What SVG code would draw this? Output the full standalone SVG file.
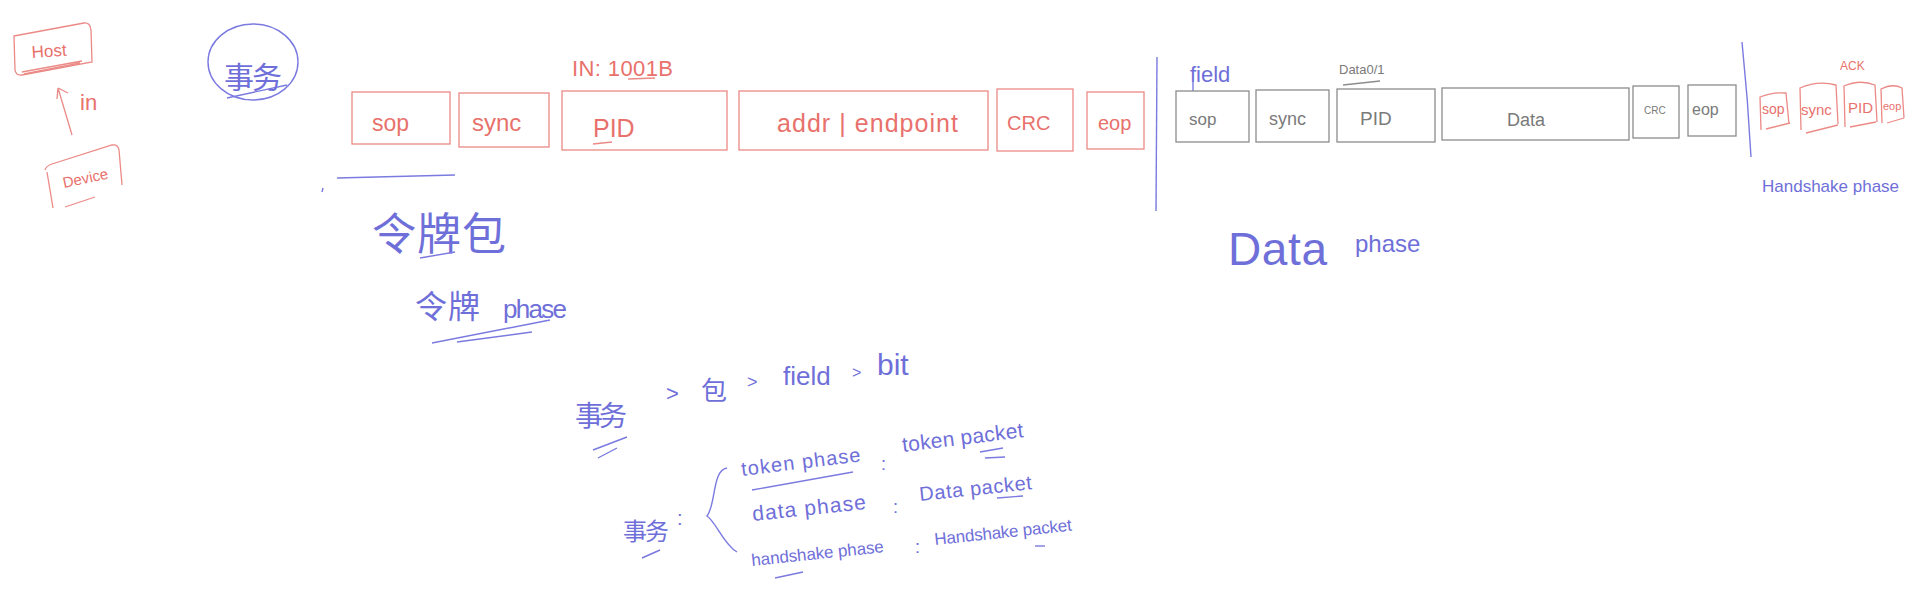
<svg xmlns="http://www.w3.org/2000/svg" width="1906" height="612" viewBox="0 0 1906 612">
<style>
.r{fill:none;stroke:#eb8a86;stroke-width:1.3}
.g{fill:none;stroke:#8c8c8c;stroke-width:1.3}
.b{fill:none;stroke:#7a7ae0;stroke-width:1.4}
.tr{fill:#e8716c;font-family:"Liberation Sans",sans-serif}
.tb{fill:#6f6fd9;font-family:"Liberation Sans","Noto Sans CJK SC",sans-serif}
.tg{fill:#7a7a7a;font-family:"Liberation Sans",sans-serif}
</style>
<rect width="1906" height="612" fill="#ffffff"/>

<g id="host">
<path class="r" d="M14,36 L84,23 Q90,22 91,30 L92,62 L22,75 Q16,76 15,70 Z"/>
<path class="r" d="M22,72 L82,61 M24,74 L80,63"/>
<text class="tr" x="32" y="58" font-size="17" textLength="35" transform="rotate(-4 32 58)">Host</text>
</g>

<g id="device">
<path class="r" d="M45,170 Q46,166 52,164 L112,145 Q118,144 119,150 L122,185 M53,208 L47,172"/>
<path class="r" d="M65,207 L95,197"/>
<text class="tr" x="64" y="188" font-size="15" textLength="46" transform="rotate(-12 64 188)">Device</text>
</g>

<g id="connectors">
<path class="r" d="M72,135 L58,88 M58,88 L57,99 M58,88 L68,93"/>
<text class="tr" x="80" y="110" font-size="22">in</text>
<path class="b" d="M727,468 C712,470 716,505 707,516 C716,522 724,545 737,552"/>
</g>

<g id="shiwu-circle">
<ellipse class="b" cx="253" cy="62" rx="45" ry="38"/>
<path class="b" d="M227,98 L287,85"/>
<text class="tb" x="224" y="88" font-size="30" textLength="58">事务</text>
</g>
<path class="b" d="M323,188 L322,192"/>

<g id="token-packet">
<rect class="r" x="352" y="92" width="98" height="52"/>
<text class="tr" x="372" y="131" font-size="23">sop</text>
<rect class="r" x="459" y="93" width="90" height="54"/>
<text class="tr" x="472" y="131" font-size="24">sync</text>
<rect class="r" x="562" y="91" width="165" height="59"/>
<text class="tr" x="593" y="137" font-size="25">PID</text>
<path class="r" d="M593,144 L612,142"/>
<text class="tr" x="572" y="76" font-size="22" textLength="101">IN: 1001B</text>
<path class="r" d="M628,79 L655,78"/>
<rect class="r" x="739" y="91" width="249" height="59"/>
<text class="tr" x="777" y="132" font-size="25" textLength="181">addr  |  endpoint</text>
<rect class="r" x="997" y="89" width="76" height="62"/>
<text class="tr" x="1007" y="130" font-size="20">CRC</text>
<rect class="r" x="1087" y="92" width="57" height="57"/>
<text class="tr" x="1098" y="130" font-size="20">eop</text>
</g>

<g id="token-notes">
<path class="b" d="M337,178 L455,175"/>
<text class="tb" x="372" y="250" font-size="44" textLength="134">令牌包</text>
<path class="b" d="M420,258 L455,252"/>
<text class="tb" x="415" y="318" font-size="32" textLength="65">令牌</text>
<text class="tb" x="503" y="318" font-size="26" textLength="64">phase</text>
<path class="b" d="M432,343 L550,320 M457,342 L532,332"/>
</g>

<path class="b" d="M1157,57 L1156,211"/>

<g id="data-packet">
<text class="tb" x="1190" y="82" font-size="22">field</text>
<path class="b" d="M1193,82 L1193,91"/>
<text class="tg" x="1339" y="74" font-size="13">Data0/1</text>
<path class="g" d="M1343,85 L1380,81"/>
<rect class="g" x="1176" y="91" width="73" height="51"/>
<text class="tg" x="1189" y="125" font-size="17">sop</text>
<rect class="g" x="1256" y="90" width="73" height="52"/>
<text class="tg" x="1269" y="125" font-size="18">sync</text>
<rect class="g" x="1337" y="89" width="98" height="53"/>
<text class="tg" x="1360" y="125" font-size="19">PID</text>
<rect class="g" x="1442" y="88" width="187" height="52"/>
<text class="tg" x="1507" y="126" font-size="18">Data</text>
<rect class="g" x="1633" y="86" width="46" height="52"/>
<text class="tg" x="1644" y="114" font-size="10">CRC</text>
<rect class="g" x="1688" y="85" width="48" height="51"/>
<text class="tg" x="1692" y="115" font-size="16">eop</text>
</g>

<g id="data-phase">
<text class="tb" x="1228" y="265" font-size="46" textLength="99">Data</text>
<text class="tb" x="1355" y="252" font-size="24">phase</text>
</g>

<path class="b" d="M1742,42 Q1748,100 1751,157"/>

<g id="handshake-packet">
<text class="tr" x="1840" y="70" font-size="12">ACK</text>
<path class="r" d="M1761,130 L1760,97 Q1772,92 1786,93 L1789,124 M1766,129 L1790,123"/>
<text class="tr" x="1762" y="114" font-size="14">sop</text>
<path class="r" d="M1801,130 L1800,88 Q1818,80 1836,85 L1838,124 M1806,133 L1838,125"/>
<text class="tr" x="1801" y="115" font-size="15">sync</text>
<path class="r" d="M1845,127 L1844,86 Q1860,79 1875,85 L1877,122 M1850,127 L1876,122"/>
<text class="tr" x="1848" y="113" font-size="15">PID</text>
<path class="r" d="M1882,123 L1881,89 Q1893,83 1902,88 L1904,118 M1887,123 L1904,118"/>
<text class="tr" x="1883" y="110" font-size="11">eop</text>
<text class="tb" x="1762" y="192" font-size="17">Handshake phase</text>
</g>

<g id="hierarchy">
<text class="tb" x="575" y="426" font-size="28" textLength="52">事务</text>
<text class="tb" x="666" y="401" font-size="22">&gt;</text>
<text class="tb" x="701" y="400" font-size="26">包</text>
<text class="tb" x="747" y="388" font-size="18">&gt;</text>
<text class="tb" x="783" y="385" font-size="26">field</text>
<text class="tb" x="852" y="378" font-size="16">&gt;</text>
<text class="tb" x="877" y="375" font-size="30">bit</text>
<path class="b" d="M593,450 L627,437 M598,458 L617,448"/>
</g>

<g id="phases">
<text class="tb" x="623" y="540" font-size="24" textLength="46">事务</text>
<text class="tb" x="677" y="525" font-size="20">:</text>
<path class="b" d="M642,558 L660,550"/>
<text class="tb" x="742" y="476" font-size="20" textLength="120" transform="rotate(-7 742 476)">token   phase</text>
<path class="b" d="M752,490 L853,472"/>
<text class="tb" x="881" y="470" font-size="18">:</text>
<text class="tb" x="903" y="452" font-size="21" textLength="122" transform="rotate(-7 903 452)">token packet</text>
<path class="b" d="M980,452 L1003,448 M985,458 L1005,457"/>
<text class="tb" x="753" y="521" font-size="21" textLength="114" transform="rotate(-6 753 521)">data  phase</text>
<text class="tb" x="893" y="513" font-size="18">:</text>
<text class="tb" x="920" y="501" font-size="20" textLength="113" transform="rotate(-6 920 501)">Data  packet</text>
<path class="b" d="M997,498 L1023,496"/>
<text class="tb" x="752" y="566" font-size="17" textLength="133" transform="rotate(-6 752 566)">handshake phase</text>
<path class="b" d="M775,578 L803,572"/>
<text class="tb" x="915" y="553" font-size="18">:</text>
<text class="tb" x="935" y="545" font-size="17" textLength="138" transform="rotate(-6 935 545)">Handshake packet</text>
<path class="b" d="M1035,546 L1045,546"/>
</g>
</svg>
